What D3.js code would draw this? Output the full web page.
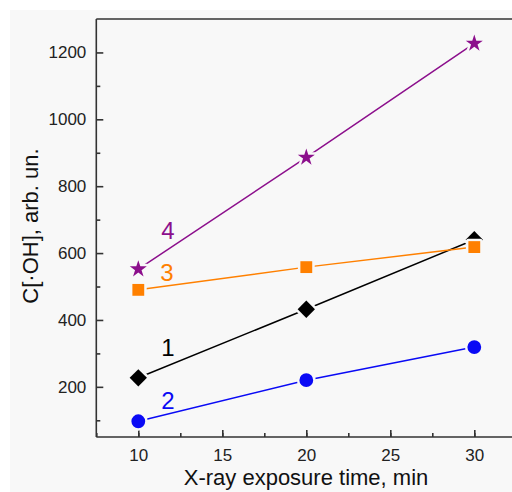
<!DOCTYPE html>
<html>
<head>
<meta charset="utf-8">
<script src="https://cdn.jsdelivr.net/npm/d3@7"></script>
<style>
  body { margin: 0; background: #fff; }
  svg { display: block; }
</style>
</head>
<body>
<div id="chart"></div>
<script>
// data
const times = [10, 20, 30];
const s1 = [227, 432, 640]; // black diamonds
const s2 = [97, 220, 319];  // blue circles
const s3 = [490, 558, 618]; // orange squares
const s4 = [552, 886, 1227]; // purple stars
const xTicks = [10, 15, 20, 25, 30];
const yTicks = [200, 400, 600, 800, 1000, 1200];

const width = 512;
const height = 492;
const bg = '#f8f8f8';

const series = [
  { id: '1', values: s1, color: '#000000', symbol: d3.symbolSquare, rot: 45, size: 150, lab: [168, 347] },
  { id: '2', values: s2, color: '#0a0af5', symbol: d3.symbolCircle, rot: 0, size: 150, lab: [168, 400] },
  { id: '3', values: s3, color: '#ff8000', symbol: d3.symbolSquare, rot: 0, size: 140, lab: [167, 272] },
  { id: '4', values: s4, color: '#8c0f8c', symbol: d3.symbolStar, rot: 0, size: 90, lab: [168, 230] },
];

const x = d3.scaleLinear().domain([7.5, 32.5]).range([96.3, 516.3]);
const y = d3.scaleLinear().domain([50, 1300]).range([437, 19]);

const svg = d3.select('#chart')
  .append('svg')
  .attr('width', width)
  .attr('height', height)
  .attr('font-family', 'Liberation Sans, Arial, sans-serif');

svg.append('rect')
  .attr('x', 10).attr('y', 10)
  .attr('width', width - 10).attr('height', height - 10)
  .attr('fill', bg);

// top frame line
svg.append('line')
  .attr('x1', x.range()[0]).attr('x2', width)
  .attr('y1', y.range()[1]).attr('y2', y.range()[1])
  .attr('stroke', '#333').attr('stroke-width', 1.6);

// axes with inward ticks
const xAxis = svg.append('g')
  .attr('transform', `translate(0,${y.range()[0]})`)
  .call(d3.axisBottom(x).tickValues(d3.range(7.5, 33, 2.5)).tickSize(-4).tickFormat(''));
xAxis.call((g) => g.select('.domain').remove());
svg.append('g')
  .attr('transform', `translate(0,${y.range()[0]})`)
  .call(d3.axisBottom(x).tickValues(xTicks).tickSize(-7).tickPadding(12).tickFormat(d3.format('d')))
  .call((g) => g.select('.domain').attr('d', `M${x.range()[0]},0H${width}`));

const yAxisMinor = svg.append('g')
  .attr('transform', `translate(${x.range()[0]},0)`)
  .call(d3.axisLeft(y).tickValues(d3.range(100, 1300, 200)).tickSize(-4).tickFormat(''));
yAxisMinor.select('.domain').remove();
svg.append('g')
  .attr('transform', `translate(${x.range()[0]},0)`)
  .call(d3.axisLeft(y).tickValues(yTicks).tickSize(-7).tickPadding(10).tickFormat(d3.format('d')))
  .call((g) => g.select('.domain').attr('d', `M0,${y.range()[0]}V${y.range()[1]}`));

svg.selectAll('.domain, .tick line')
  .attr('stroke', '#333')
  .attr('stroke-width', 1.6);
svg.selectAll('.tick text')
  .attr('font-size', 17)
  .attr('fill', '#222')
  .attr('font-family', 'Liberation Sans, Arial, sans-serif');

// axis titles
svg.append('text')
  .attr('x', 306).attr('y', 485)
  .attr('text-anchor', 'middle')
  .attr('font-size', 22)
  .attr('fill', '#111')
  .text('X-ray exposure time, min');

svg.append('text')
  .attr('transform', 'translate(38,226) rotate(-90)')
  .attr('text-anchor', 'middle')
  .attr('font-size', 22)
  .attr('fill', '#111')
  .text('C[·OH], arb. un.');

// lines and markers
const line = d3.line()
  .x((d, i) => x(times[i]))
  .y((d) => y(d));

series.forEach((s) => {
  const g = svg.append('g');
  g.append('path')
    .attr('d', line(s.values))
    .attr('fill', 'none')
    .attr('stroke', s.color)
    .attr('stroke-width', 1.5);
  g.selectAll('path.mark')
    .data(s.values)
    .join('path')
    .attr('class', 'mark')
    .attr('transform', (d, i) => `translate(${x(times[i])},${y(d)}) rotate(${s.rot})`)
    .attr('d', d3.symbol(s.symbol, s.size))
    .attr('fill', s.color)
    .attr('stroke', bg)
    .attr('stroke-width', 5)
    .attr('stroke-linejoin', 'round')
    .attr('paint-order', 'stroke');
  svg.append('text')
    .attr('x', s.lab[0]).attr('y', s.lab[1])
    .attr('dy', '0.36em')
    .attr('text-anchor', 'middle')
    .attr('font-size', 24)
    .attr('fill', s.color)
    .text(s.id);
});
</script>
</body>
</html>
